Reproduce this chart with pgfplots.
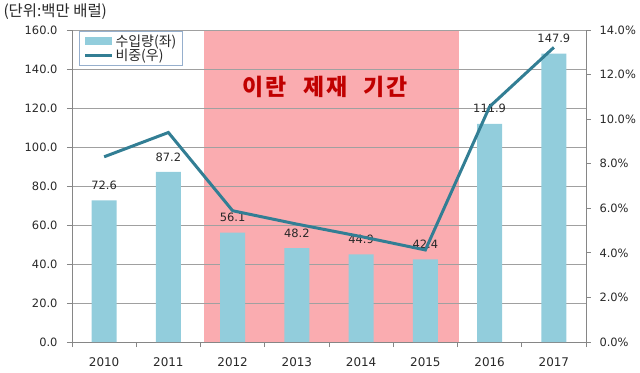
\documentclass[border=0pt]{standalone}
\usepackage{fontspec}
\setmainfont{DejaVu Sans}
\newfontfamily\kr{Noto Sans CJK KR}
\usepackage{pgfplots}
\pgfplotsset{compat=1.18}
\definecolor{barblue}{RGB}{146,205,220}
\definecolor{linecol}{RGB}{50,126,148}
\definecolor{pinkbg}{RGB}{250,172,176}
\definecolor{gridgray}{RGB}{160,160,160}
\definecolor{axgray}{RGB}{134,134,134}
\definecolor{titlered}{RGB}{192,0,0}
\definecolor{txt}{RGB}{40,40,40}
\definecolor{legborder}{RGB}{150,175,205}
\begin{document}
\begin{tikzpicture}
\begin{axis}[
  set layers,
  at={(0,0)}, anchor=south west,
  scale only axis, width=514bp, height=312bp,
  xmin=-0.5, xmax=7.5, ymin=0, ymax=160,
  clip=false,
  axis y line*=left, axis x line*=bottom,
  xtick={0,...,7}, xticklabels={2010,2011,2012,2013,2014,2015,2016,2017},
  minor xtick={-0.5,0.5,...,7.5},
  ytick={0,20,...,160},
  ymajorgrids,
  grid style={gridgray, line width=0.8pt},
  axis line style={axgray, line width=0.8pt},
  tick style={axgray, line width=0.8pt},
  major x tick style={draw=none},
  tick align=outside,
  major tick length=5bp, minor tick length=5bp,
  /pgf/number format/assume math mode=true,
  tick label style={font=\fontsize{11.5}{13}\selectfont, text=txt},
  xticklabel style={font=\fontsize{12}{13}\selectfont, yshift=-7bp},
  yticklabel style={/pgf/number format/.cd, fixed, fixed zerofill, precision=1, /tikz/.cd, xshift=-6bp},
  legend style={at={(0.014,0.997)}, anchor=north west, draw=legborder, line width=0.8pt,
    font=\kr\fontsize{14}{15}\selectfont, text=txt, inner xsep=4bp, inner ysep=1.5bp, row sep=-3bp},
  legend cell align=left,
]
\addplot[fill=pinkbg, draw=none, forget plot, on layer=axis background]
  coordinates {(1.55,0) (1.55,160) (5.53,160) (5.53,0)} -- cycle;
\addplot[ybar, bar width=25bp, fill=barblue, draw=none,
  legend image code/.code={\fill[barblue] (0bp,-4bp) rectangle (27bp,4bp);},
  nodes near coords={\pgfmathprintnumber[fixed,fixed zerofill,precision=1,assume math mode=true]{\pgfplotspointmeta}},
  every node near coord/.append style={font=\fontsize{11.5}{13}\selectfont, text=txt, anchor=center, yshift=15bp}]
  coordinates {(0,72.6) (1,87.2) (2,56.1) (3,48.2) (4,44.9) (5,42.4) (6,111.9) (7,147.9)};
\addlegendentry{수입량(좌)}
\addlegendimage{legend image code/.code={\draw[linecol, line width=3pt] (0bp,0bp) -- (27bp,0bp);}}
\addlegendentry{비중(우)}
\node[font=\kr\fontsize{23}{24}\selectfont\bfseries, text=titlered] at (axis cs:3.44,131) {이\hspace{2bp}란\hspace{16bp}제\hspace{2bp}재\hspace{16bp}기\hspace{2bp}간};
\end{axis}
\begin{axis}[
  at={(0,0)}, anchor=south west,
  scale only axis, width=514bp, height=312bp,
  xmin=-0.5, xmax=7.5, ymin=0, ymax=14,
  axis y line*=right, axis x line=none,
  ytick={0,2,...,14},
  yticklabel={\pgfmathprintnumber[fixed,fixed zerofill,precision=1,assume math mode=true]{\tick}\%},
  axis line style={axgray, line width=0.8pt},
  tick style={axgray, line width=0.8pt},
  tick align=outside, major tick length=5bp,
  tick label style={font=\fontsize{11.5}{13}\selectfont, text=txt},
  yticklabel style={xshift=5bp},
]
\addplot[linecol, line width=3pt, mark=none] coordinates {(0,8.31) (1,9.40) (2,5.89) (3,5.29) (4,4.73) (5,4.13) (6,10.56) (7,13.22)};
\end{axis}
\node[anchor=west, font=\kr\fontsize{15.5}{17}\selectfont, text=txt] at (-72bp,330bp) {(단위:백만 배럴)};
\pgfresetboundingbox
\path[use as bounding box] (-72bp,-31bp) rectangle (568bp,342bp);
\end{tikzpicture}
\end{document}
